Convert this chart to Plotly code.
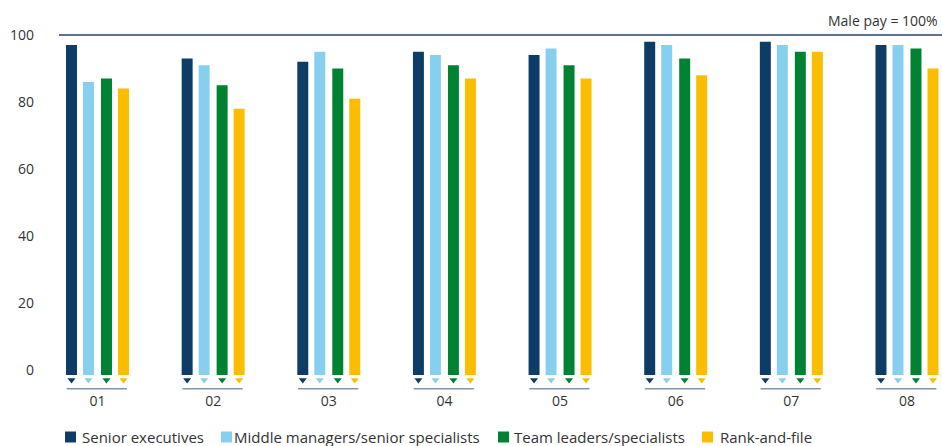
import numpy as np
import plotly.graph_objects as go

# Female pay as a share of male pay, by company and job level
companies = ["01", "02", "03", "04", "05", "06", "07", "08"]
senior_executives = [97, 93, 92, 95, 94, 98, 98, 97]
middle_managers = [86, 91, 95, 94, 96, 97, 97, 97]
team_leaders = [87, 85, 90, 91, 91, 93, 95, 96]
rank_and_file = [84, 78, 81, 87, 87, 88, 95, 90]
y_ticks = [0, 20, 40, 60, 80, 100]

series = [
    ("Senior executives", senior_executives, "#0d3c67"),
    ("Middle managers/senior specialists", middle_managers, "#87cfef"),
    ("Team leaders/specialists", team_leaders, "#008233"),
    ("Rank-and-file", rank_and_file, "#fbbd00"),
]

FONT = "Open Sans"
TEXT = "#333333"
BAR_BASE = -1.5          # bars start a little below the zero line
MARKER_Y = -3.0          # small pointers under each bar
RULE_Y = -5.6            # short rule under each group
OFFSETS = [-0.2248, -0.0778, 0.0778, 0.2248]
BAR_W = 0.095

W, H = 942, 446
M = dict(l=59, r=0, t=20, b=55)
plot_w = W - M["l"] - M["r"]
plot_h = H - M["t"] - M["b"]

# legend row (pixel positions of swatches and labels)
LEGEND_Y_PX = 437
LEGEND_SWATCH_X = [65, 221, 498, 702]
LEGEND_TEXT_X = [80, 232, 512, 718]
SWATCH = 11

pos = np.arange(len(companies))
fig = go.Figure()

for (name, vals, color), off in zip(series, OFFSETS):
    vals = np.asarray(vals, dtype=float)
    fig.add_trace(go.Bar(
        x=pos + off, y=vals - BAR_BASE, base=BAR_BASE, width=BAR_W,
        name=name, marker=dict(color=color, line=dict(width=0)),
        customdata=vals, hovertemplate="%{customdata}<extra>" + name + "</extra>",
        showlegend=False,
    ))
    fig.add_trace(go.Scatter(
        x=pos + off, y=[MARKER_Y] * len(pos), mode="markers",
        marker=dict(symbol="triangle-down", size=7, color=color),
        showlegend=False, hoverinfo="skip",
    ))

shapes = [dict(type="line", xref="paper", yref="y", x0=0, x1=1, y0=100, y1=100,
               line=dict(color="#5b7290", width=2))]
for p in pos:
    shapes.append(dict(type="line", xref="x", yref="y", x0=p - 0.266, x1=p + 0.255,
                       y0=RULE_Y, y1=RULE_Y, line=dict(color="#7f95ad", width=1.5)))

legend_y = (H - M["b"] - LEGEND_Y_PX) / plot_h
annotations = [dict(text="Male pay = 100%", xref="paper", yref="paper", x=1, y=1,
                    xanchor="right", yanchor="middle", xshift=-2, showarrow=False,
                    font=dict(family=FONT, size=14, color=TEXT))]
for (name, _, color), sx, tx in zip(series, LEGEND_SWATCH_X, LEGEND_TEXT_X):
    shapes.append(dict(type="rect", xref="paper", yref="paper",
                       xsizemode="pixel", ysizemode="pixel",
                       xanchor=(sx - M["l"]) / plot_w, yanchor=legend_y,
                       x0=0, x1=SWATCH, y0=-SWATCH / 2, y1=SWATCH / 2,
                       fillcolor=color, line=dict(width=0)))
    annotations.append(dict(text=name, xref="paper", yref="paper",
                            x=(tx - M["l"]) / plot_w, y=legend_y,
                            xanchor="left", yanchor="middle", showarrow=False,
                            font=dict(family=FONT, size=15, color=TEXT)))

fig.update_layout(
    width=W, height=H, margin=M,
    paper_bgcolor="white", plot_bgcolor="white",
    barmode="overlay",
    font=dict(family=FONT, size=14, color=TEXT),
    shapes=shapes, annotations=annotations,
    showlegend=False,
)
fig.update_xaxes(range=[-0.3329, 7.3029], tickmode="array", tickvals=pos, ticktext=companies,
                 showgrid=False, zeroline=False, showline=False, ticks="",
                 tickfont=dict(family=FONT, size=14, color=TEXT))
fig.update_yaxes(range=[-6.3, 104.48], tickmode="array", tickvals=y_ticks,
                 showgrid=False, zeroline=False, showline=False, ticks="",
                 ticklabelstandoff=24,
                 tickfont=dict(family=FONT, size=14, color=TEXT))

fig.write_html("out.html")
